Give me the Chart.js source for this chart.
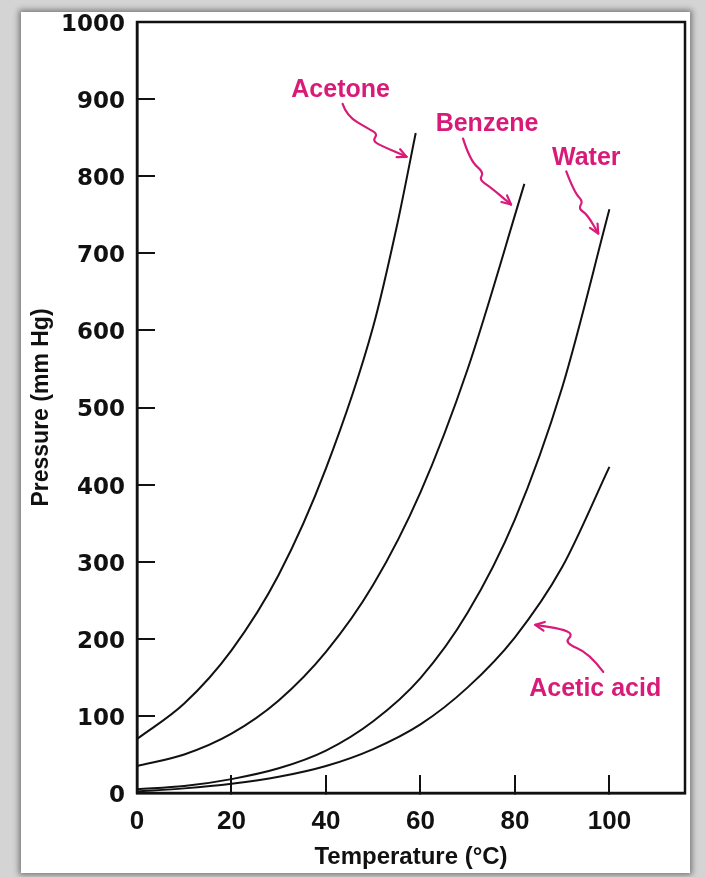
<!DOCTYPE html>
<html>
<head>
<meta charset="utf-8">
<script src="https://cdn.jsdelivr.net/npm/chart.js@4.4.1/dist/chart.umd.min.js"></script>
<style>
  html, body { margin: 0; padding: 0; }
  body { width: 705px; height: 877px; background: #d4d4d4; position: relative; overflow: hidden; }
  #panel { position: absolute; left: 21px; top: 12px; width: 669px; height: 861px; background: #fff;
           box-shadow: 0 0 6px 2px rgba(0,0,0,0.45); }
  #wrap { position: absolute; left: 0; top: 0; width: 705px; height: 877px; }
</style>
</head>
<body>
<div id="panel"></div>
<div id="wrap"><canvas id="vp"></canvas></div>
<script>
// vapour pressure curves, temperature in °C, pressure in mm Hg
const acetoneT = [0, 10, 20, 30, 40, 50, 55, 59];
const acetoneP = [70, 116, 185, 283, 421, 605, 735, 856];

const benzeneT = [0, 10, 20, 30, 40, 50, 60, 70, 82];
const benzeneP = [35, 50, 77, 120, 183, 270, 390, 550, 790];

const waterT = [0, 10, 20, 30, 40, 50, 60, 70, 80, 90, 100];
const waterP = [5, 9, 18, 32, 55, 93, 149, 234, 355, 526, 757];

const aceticT = [0, 10, 20, 30, 40, 50, 60, 70, 80, 90, 100];
const aceticP = [2, 6, 12, 21, 35, 57, 89, 137, 202, 293, 423];

const names = ['Acetone', 'Benzene', 'Water', 'Acetic acid'];

const xTicks = [0, 20, 40, 60, 80, 100];
const yTicks = [0, 100, 200, 300, 400, 500, 600, 700, 800, 900, 1000];

const pts = (t, p) => t.map((v, i) => ({x: v, y: p[i]}));

const INK = '#111';
const PINK = '#d81b78';

function curve(label, t, p){
    return {
        label: label,
        data: pts(t, p),
        showLine: true,
        borderColor: INK,
        borderWidth: 2,
        pointRadius: 0,
        fill: false,
        cubicInterpolationMode: 'monotone'
    };
}

// pink labels with wavy arrows; anchor in data units, squiggle in px offsets
const callouts = {
    id: 'callouts',
    afterDatasetsDraw(chart){
        const {ctx, scales: {x, y}} = chart;
        const marks = [
            {at: [43.1, 912], path: [[2,14],[6,26],[28,39],[37,44],[32,51],[41,56],[66,67]]},
            {at: [74.1, 867], path: [[-24,14],[-17,36],[-3,48],[-8,55],[4,63],[24,80]]},
            {at: [95.1, 823], path: [[-20,13],[-12,34],[-3,43],[-8,50],[1,56],[12,75]]},
            {at: [97.0, 135], path: [[8,-17],[-6,-36],[-31,-46],[-22,-55],[-34,-60],[-60,-64]]}
        ];
        ctx.save();
        ctx.fillStyle = PINK;
        ctx.strokeStyle = PINK;
        ctx.lineWidth = 2.2;
        ctx.lineCap = 'round';
        ctx.lineJoin = 'round';
        ctx.font = 'bold 25px "Liberation Sans", Arial, sans-serif';
        ctx.textAlign = 'center';
        ctx.textBaseline = 'middle';
        marks.forEach((m, i) => {
            const cx = x.getPixelForValue(m.at[0]);
            const cy = y.getPixelForValue(m.at[1]);
            ctx.fillText(names[i], cx, cy);
            const p = m.path.map(d => [cx + d[0], cy + d[1]]);
            ctx.beginPath();
            ctx.moveTo(p[0][0], p[0][1]);
            for (let k = 1; k < p.length - 1; k++) {
                const mx = (p[k][0] + p[k+1][0]) / 2, my = (p[k][1] + p[k+1][1]) / 2;
                ctx.quadraticCurveTo(p[k][0], p[k][1], mx, my);
            }
            const end = p[p.length - 1], prev = p[p.length - 2];
            ctx.lineTo(end[0], end[1]);
            ctx.stroke();
            const a = Math.atan2(end[1] - prev[1], end[0] - prev[0]);
            ctx.beginPath();
            ctx.moveTo(end[0] - 10*Math.cos(a - 0.45), end[1] - 10*Math.sin(a - 0.45));
            ctx.lineTo(end[0], end[1]);
            ctx.lineTo(end[0] - 10*Math.cos(a + 0.45), end[1] - 10*Math.sin(a + 0.45));
            ctx.stroke();
        });
        ctx.restore();
    }
};

const frame = {
    id: 'frame',
    afterDraw(chart){
        const {ctx, chartArea: a} = chart;
        ctx.save();
        ctx.strokeStyle = INK;
        ctx.lineWidth = 2.5;
        ctx.strokeRect(a.left, a.top, a.right - a.left, a.bottom - a.top);
        ctx.restore();
    }
};

const hideEnds = (ends) => (c) => (c.tick && ends.includes(c.tick.value)) ? 'rgba(0,0,0,0)' : INK;

new Chart(document.querySelector('#vp'), {
    type: 'scatter',
    data: {
        datasets: [
            curve(names[0], acetoneT, acetoneP),
            curve(names[1], benzeneT, benzeneP),
            curve(names[2], waterT, waterP),
            curve(names[3], aceticT, aceticP)
        ]
    },
    options: {
        responsive: true,
        maintainAspectRatio: false,
        animation: false,
        layout: { padding: { top: 22, right: 20, left: 0, bottom: 0 } },
        scales: {
            x: {
                type: 'linear',
                min: 0,
                max: 116,
                afterBuildTicks: s => { s.ticks = xTicks.map(v => ({value: v})); },
                afterFit: s => { s.height = 84; s.paddingLeft = 0; s.paddingRight = 0; },
                ticks: {
                    padding: 31,
                    color: INK,
                    callback: v => String(v),
                    font: { family: '"Liberation Sans", Arial, sans-serif', size: 26, weight: 'bold' }
                },
                grid: { drawOnChartArea: false, tickLength: -18, lineWidth: 2, tickColor: hideEnds([0]) },
                border: { color: INK, width: 2.5 },
                title: {
                    display: true,
                    text: 'Temperature (°C)',
                    color: INK,
                    padding: { top: 0, bottom: 5 },
                    font: { family: '"Liberation Sans", Arial, sans-serif', size: 24, weight: 'bold' }
                }
            },
            y: {
                min: 0,
                max: 1000,
                afterBuildTicks: s => { s.ticks = yTicks.map(v => ({value: v})); },
                afterFit: s => { s.width = 137; s.paddingTop = 0; s.paddingBottom = 0; },
                ticks: {
                    padding: 30,
                    labelOffset: 3,
                    color: INK,
                    callback: v => String(v),
                    font: { family: '"DejaVu Sans", sans-serif', size: 23, weight: 'bold' }
                },
                grid: { drawOnChartArea: false, tickLength: -18, lineWidth: 2, tickColor: hideEnds([0, 1000]) },
                border: { color: INK, width: 2.5 },
                title: {
                    display: true,
                    text: 'Pressure (mm Hg)',
                    color: INK,
                    padding: { top: 28, bottom: 0 },
                    font: { family: '"Liberation Sans", Arial, sans-serif', size: 23, weight: 'bold' }
                }
            }
        },
        plugins: {
            legend: { display: false },
            tooltip: { enabled: false }
        }
    },
    plugins: [callouts, frame]
});
</script>
</body>
</html>
